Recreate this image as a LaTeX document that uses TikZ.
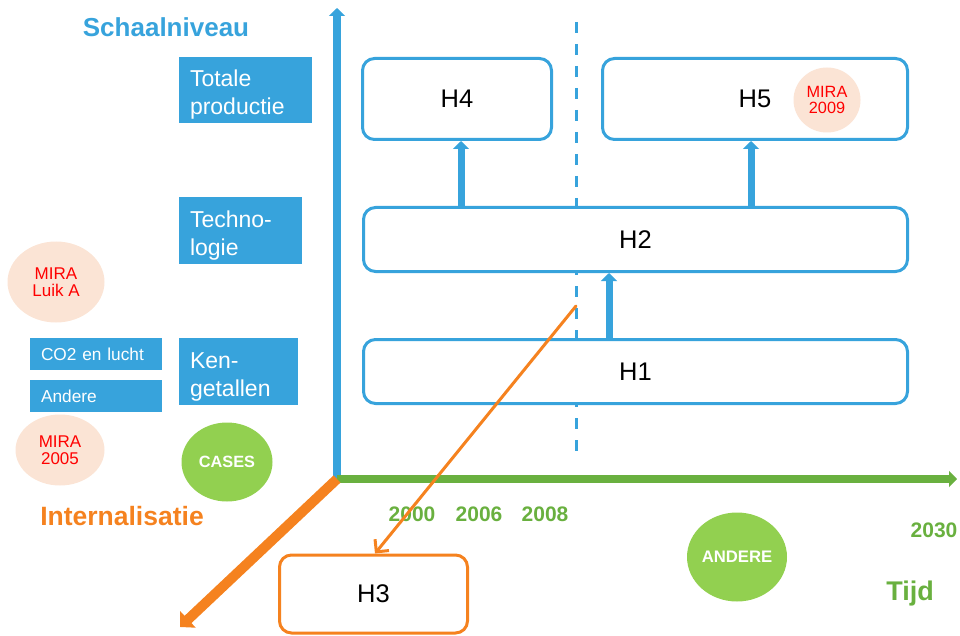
\documentclass[tikz,border=0pt]{standalone}
\usepackage{fontspec}
\setmainfont{Liberation Sans}
\usetikzlibrary{arrows.meta,shapes.geometric}
\definecolor{skyblue}{HTML}{37A3DC}
\definecolor{axgreen}{HTML}{69B03F}
\definecolor{lightgreen}{HTML}{92D050}
\definecolor{deeporange}{HTML}{F5821F}
\definecolor{peach}{HTML}{FBE4D5}
\definecolor{mirared}{HTML}{FF0000}
% taller first line, so two-line labels sit a little lower in their box
\newcommand{\firstline}{\rule{0pt}{26pt}}
\begin{document}
\begin{tikzpicture}[x=1pt,y=-1pt,
  hbox/.style={draw=skyblue, line width=3pt, rounded corners=12pt, fill=white,
    inner sep=0pt, font=\fontsize{25.5}{28}\selectfont},
  lblbox/.style={fill=skyblue, text=white, align=left, inner ysep=0pt,
    font=\fontsize{23}{28}\selectfont},
  smallbox/.style={fill=skyblue, text=white, align=left, inner ysep=0pt,
    inner xsep=11pt, text width=110pt, minimum height=32pt,
    font=\fontsize{17.3}{20}\selectfont},
  mira/.style={ellipse, fill=peach, text=mirared, align=center, inner sep=0pt,
    font=\fontsize{17}{17}\selectfont},
  greenblob/.style={ellipse, fill=lightgreen, text=white, inner sep=0pt,
    font=\bfseries\fontsize{16.3}{18}\selectfont},
  year/.style={text=axgreen, anchor=base, inner sep=0pt,
    font=\bfseries\fontsize{21}{24}\selectfont},
  uparrow/.style={draw=skyblue, line width=7pt,
    -{Triangle[width=16pt,length=8pt]}, shorten >=0pt},
]
\useasboundingbox (0,0) rectangle (960,636);

% period divider
\coordinate (divtop) at (576,22);
\coordinate (divbot) at (576,452);
\draw[skyblue, line width=3pt, dash pattern=on 11pt off 11pt] (divtop) -- (divbot);

% axes
\coordinate (origin) at (337,479);
\coordinate (ytip) at (337,8);
\coordinate (xtip) at (957,479);
\coordinate (ztip) at (180,627);
\draw[skyblue, line width=7.5pt, -{Triangle[width=16pt,length=8pt]}] (origin) -- (ytip);
\draw[axgreen, line width=8pt, -{Triangle[width=16pt,length=8pt]}] (origin) -- (xtip);
\draw[deeporange, line width=10pt, -{Triangle[width=22pt,length=11pt]}] (origin) -- (ztip);

% axis titles
\node[text=skyblue, anchor=base, inner sep=0pt, font=\bfseries\fontsize{26}{30}\selectfont]
  (schaal) at (166,37) {Schaalniveau};
\node[text=deeporange, anchor=base, inner sep=0pt, font=\bfseries\fontsize{26.5}{30}\selectfont]
  (intern) at (122,525) {Internalisatie};
\node[text=axgreen, anchor=base, inner sep=0pt, font=\bfseries\fontsize{27}{30}\selectfont]
  (tijd) at (910,600) {Tijd};

% years
\node[year] (y2000) at (412,521) {2000};
\node[year] (y2006) at (479,521) {2006};
\node[year] (y2008) at (545,521) {2008};
\node[year] (y2030) at (934,537) {2030};

% level labels
\node[lblbox, inner xsep=11pt, text width=111pt, minimum height=66pt]
  (totale) at (245.5,90) {\firstline Totale\\productie};
\node[lblbox, inner xsep=11pt, text width=101pt, minimum height=67pt]
  (techno) at (240.5,230.5) {\firstline Techno-\\logie};
\node[lblbox, inner xsep=11pt, text width=97pt, minimum height=67pt]
  (ken) at (238.5,371.5) {\firstline Ken-\\getallen};
\node[smallbox] (co2) at (96,354) {CO2 en lucht};
\node[smallbox] (andere) at (96,396) {Andere};

% sources
\node[mira, minimum width=97pt, minimum height=81pt] (miraA) at (56,282) {MIRA\\Luik A};
\node[mira, minimum width=89pt, minimum height=71pt] (mira05) at (60,450) {MIRA\\2005};
\node[greenblob, minimum width=91pt, minimum height=79pt] (cases) at (227,462) {CASES};
\node[greenblob, font=\bfseries\fontsize{16.7}{18}\selectfont,
  minimum width=100pt, minimum height=89pt] (anderegrp) at (737,557) {ANDERE};

% hypotheses
\node[hbox, minimum width=189pt, minimum height=81pt] (h4) at (457,99) {H4};
\node[hbox, minimum width=305pt, minimum height=81pt] (h5) at (755,99) {H5};
\node[hbox, minimum width=544pt, minimum height=64pt] (h2) at (635.5,239.5) {H2};
\node[hbox, minimum width=544pt, minimum height=64pt] (h1) at (635.5,371.5) {H1};
\node[hbox, draw=deeporange, minimum width=188pt, minimum height=78pt] (h3) at (373.5,594) {H3};
\node[mira, font=\fontsize{16.3}{16}\selectfont,
  minimum width=67pt, minimum height=65pt] (mira09) at (827,100) {MIRA\\2009};

% links between hypotheses
\draw[uparrow] (h2.north -| 461,0) -- (h4.south -| 461,0);
\draw[uparrow] (h2.north -| 751,0) -- (h5.south -| 751,0);
\draw[uparrow] (h1.north -| 609,0) -- (h2.south -| 609,0);

\coordinate (fromdiv) at (576,306);
\draw[deeporange, line width=3pt, line cap=round, -{Straight Barb[length=9pt,width=18pt]}]
  (fromdiv) -- (h3.north -| 375,0);
\end{tikzpicture}
\end{document}
